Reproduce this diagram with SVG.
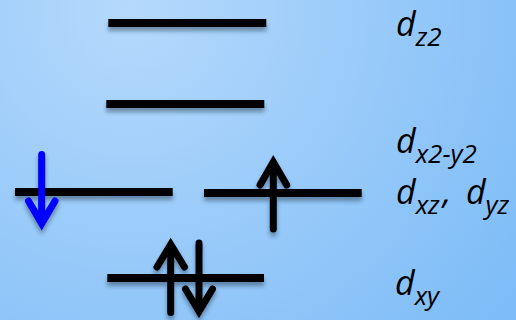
<svg xmlns="http://www.w3.org/2000/svg" width="516" height="320" viewBox="0 0 516 320">
<style>
.lvl{fill:#000}
.ar{fill:none;stroke:#000;stroke-width:7;stroke-linecap:round;stroke-linejoin:miter;stroke-miterlimit:10}
.blue{stroke:#0000ff}
.lbl{font-family:"Open Sans","Liberation Sans",sans-serif;font-style:italic;font-size:34px;fill:#000}
.sub{font-size:26px}
</style>
<defs>
<radialGradient id="bg" cx="130" cy="10" r="480" gradientUnits="userSpaceOnUse">
<stop offset="0" stop-color="#b5d9fc"/>
<stop offset="1" stop-color="#7dbcf7"/>
</radialGradient>
<filter id="sh" x="-20%" y="-50%" width="140%" height="250%">
<feDropShadow dx="0" dy="4" stdDeviation="2.2" flood-color="#1a2a40" flood-opacity="0.45"/>
</filter>
</defs>
<rect width="516" height="320" fill="url(#bg)"/>
<g filter="url(#sh)">
<g id="dz2">
<rect class="lvl" x="108.3" y="19" width="158" height="8"/>
</g>
<g id="dx2y2">
<rect class="lvl" x="106.3" y="100" width="158" height="8"/>
</g>
<g id="dxz">
<rect class="lvl" x="15" y="188" width="157.7" height="8"/>
</g>
<g id="dyz">
<rect class="lvl" x="204" y="189" width="157.7" height="8"/>
</g>
<g id="dxy">
<rect class="lvl" x="107.3" y="274" width="156.7" height="8"/>
</g>
<g id="electrons">
<path class="ar blue" d="M41.7,154.5 V222 M28.5,201 L41.7,223.5 L55,201"/>
<path class="ar" d="M273.3,229 V165 M260,185 L273.3,162 L286.7,185"/>
<path class="ar" d="M170.7,312.5 V248 M157,267 L170.7,244.5 L184.5,267"/>
<path class="ar" d="M199,243 V308 M185.5,289 L199,311.5 L212.5,289"/>
</g>
</g>
<g id="labels">
<text class="lbl" x="396" y="36">d<tspan class="sub" dy="10">z2</tspan></text>
<text class="lbl" x="396" y="153">d<tspan class="sub" dy="10">x2-y2</tspan></text>
<text class="lbl" x="396" y="204">d<tspan class="sub" dy="10">xz</tspan><tspan dx="3" dy="-10">,</tspan><tspan dx="6"> d</tspan><tspan class="sub" dy="10">yz</tspan></text>
<text class="lbl" x="395" y="295">d<tspan class="sub" dy="10">xy</tspan></text>
</g>
</svg>
